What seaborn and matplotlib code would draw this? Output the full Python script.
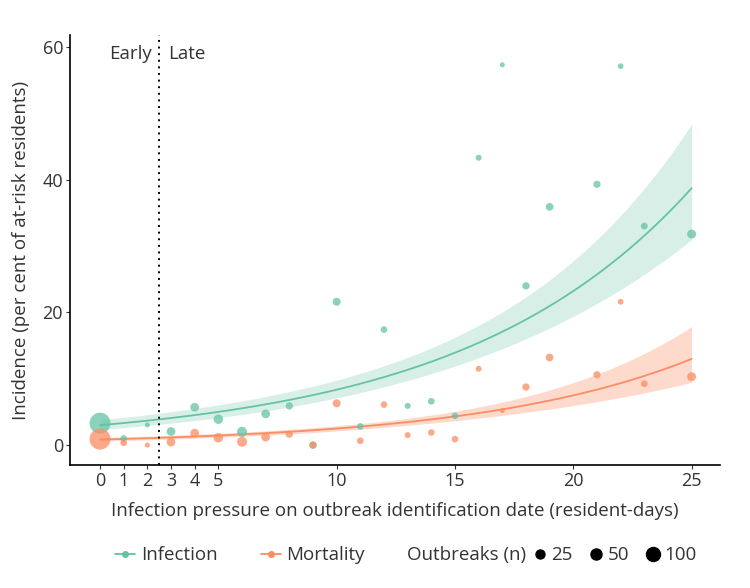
import numpy as np
import pandas as pd
import seaborn as sns
import matplotlib.pyplot as plt
from matplotlib.lines import Line2D

GREEN, ORANGE = '#66c2a5', '#fc8d62'
TEXT = '#333333'

sns.set_theme(style='ticks')
plt.rcParams['font.family'] = ['Open Sans', 'DejaVu Sans']

# infection pressure on identification date (resident-days)
pressure = [0, 1, 2, 3, 4, 5, 6, 7, 8, 9, 10, 11, 12, 13, 14, 15, 16, 17, 18, 19, 21, 22, 23, 25]
infection = [3.3, 1.0, 3.05, 2.05, 5.7, 3.9, 2.0, 4.7, 5.9, 0.0, 21.6, 2.8, 17.4, 5.9,
             6.6, 4.4, 43.3, 57.3, 24.0, 35.9, 39.3, 57.1, 33.0, 31.8]
mortality = [0.9, 0.35, 0.0, 0.45, 1.8, 1.1, 0.5, 1.2, 1.65, 0.0, 6.3, 0.65, 6.1, 1.5,
             1.9, 0.9, 11.5, 5.2, 8.75, 13.2, 10.6, 21.6, 9.25, 10.3]
outbreaks = [289, 7, 1, 22, 22, 30, 36, 22, 11, 11, 16, 7, 7, 4, 7, 7, 4, 1,
             11, 14, 10, 3, 8, 25]

# fitted log-linear models: intercept, slope, var(intercept), cov, var(slope)
fit_infection = [np.log(3.0), 0.1023, 0.01499, -6.66e-4, 5.0e-5]
fit_mortality = [np.log(0.83), 0.110, 0.0234, -1.462e-3, 1.218e-4]

legend_n = [25, 50, 100]
x_ticks = [0, 1, 2, 3, 4, 5, 10, 15, 20, 25]
y_ticks = [0, 20, 40, 60]


def diam_pt(n):
    # point diameter grows with sqrt(n); px -> pt
    return (4 + np.sqrt(n)) * 0.72


pts = pd.concat([
    pd.DataFrame({'pressure': pressure, 'incidence': infection, 'n': outbreaks, 'outcome': 'Infection'}),
    pd.DataFrame({'pressure': pressure, 'incidence': mortality, 'n': outbreaks, 'outcome': 'Mortality'}),
])
sizes = {n: diam_pt(n) ** 2 for n in set(outbreaks)}

xs = np.linspace(0, 25, 200)
fits = []
for name, (a, b, va, cab, vb) in [('Infection', fit_infection), ('Mortality', fit_mortality)]:
    eta = a + b * xs
    se = np.sqrt(va + 2 * cab * xs + vb * xs ** 2)
    fits.append(pd.DataFrame({'x': xs, 'y': np.exp(eta), 'lo': np.exp(eta - 1.96 * se),
                              'hi': np.exp(eta + 1.96 * se), 'outcome': name}))
fit_df = pd.concat(fits)

pal = {'Infection': GREEN, 'Mortality': ORANGE}
FS = 13.5

fig = plt.figure(figsize=(7.5, 5.88), dpi=100)
ax = fig.add_axes([0.0933, 0.2092, 0.8667, 0.7313])

for name, g in fit_df.groupby('outcome'):
    ax.fill_between(g['x'], g['lo'], g['hi'], color=pal[name],
                    alpha=0.25 if name == 'Infection' else 0.32, lw=0, zorder=1)
sns.lineplot(data=fit_df, x='x', y='y', hue='outcome', palette=pal, lw=1.3,
             legend=False, ax=ax, zorder=2)
sns.scatterplot(data=pts, x='pressure', y='incidence', hue='outcome', palette=pal,
                size='n', sizes=sizes, alpha=0.75, linewidth=0, legend=False,
                ax=ax, zorder=3)

ax.axvline(2.5, color='black', ls=(0, (1, 2.4)), lw=1.4, zorder=4)
ax.text(2.2, 59, 'Early', ha='right', va='center', fontsize=FS, color=TEXT)
ax.text(2.87, 59, 'Late', ha='left', va='center', fontsize=FS, color=TEXT)

ax.set_xlim(-1.27, 26.2)
ax.set_ylim(-3, 61.8)
ax.set_xticks(x_ticks)
ax.set_yticks(y_ticks)
sns.despine(ax=ax)
for sp in ['left', 'bottom']:
    ax.spines[sp].set_color('black')
    ax.spines[sp].set_linewidth(1.2)
ax.tick_params(length=3, width=0.8, color=TEXT, labelcolor=TEXT, labelsize=13, pad=2)
ax.set_xlabel('Infection pressure on outbreak identification date (resident-days)',
              fontsize=FS, color=TEXT, labelpad=9)
ax.set_ylabel('Incidence (per cent of at-risk residents)', fontsize=FS, color=TEXT, labelpad=9)

# legends along the bottom
col_handles = [Line2D([], [], color=GREEN, marker='o', markersize=4.0, lw=1.3),
               Line2D([], [], color=ORANGE, marker='o', markersize=4.0, lw=1.3)]
leg1 = fig.legend(col_handles, ['Infection', 'Mortality'], ncol=2, loc='center left',
                  bbox_to_anchor=(0.153, 0.056), frameon=False, fontsize=FS,
                  handlelength=1.07, handletextpad=0.32, columnspacing=2.3,
                  borderaxespad=0, borderpad=0)
for t in leg1.get_texts():
    t.set_color(TEXT)
fig.text(0.5427, 0.056, 'Outbreaks (n)', ha='left', va='center', fontsize=FS, color=TEXT)
size_handles = [Line2D([], [], color='black', marker='o', lw=0, markersize=diam_pt(n))
                for n in legend_n]
leg2 = fig.legend(size_handles, [str(n) for n in legend_n], ncol=3, loc='center left',
                  bbox_to_anchor=(0.71, 0.056), frameon=False, fontsize=FS,
                  handlelength=0.8, handletextpad=0.22, columnspacing=0.85,
                  borderaxespad=0, borderpad=0)
for t in leg2.get_texts():
    t.set_color(TEXT)

fig.savefig('out.png', dpi=100, facecolor='white')
